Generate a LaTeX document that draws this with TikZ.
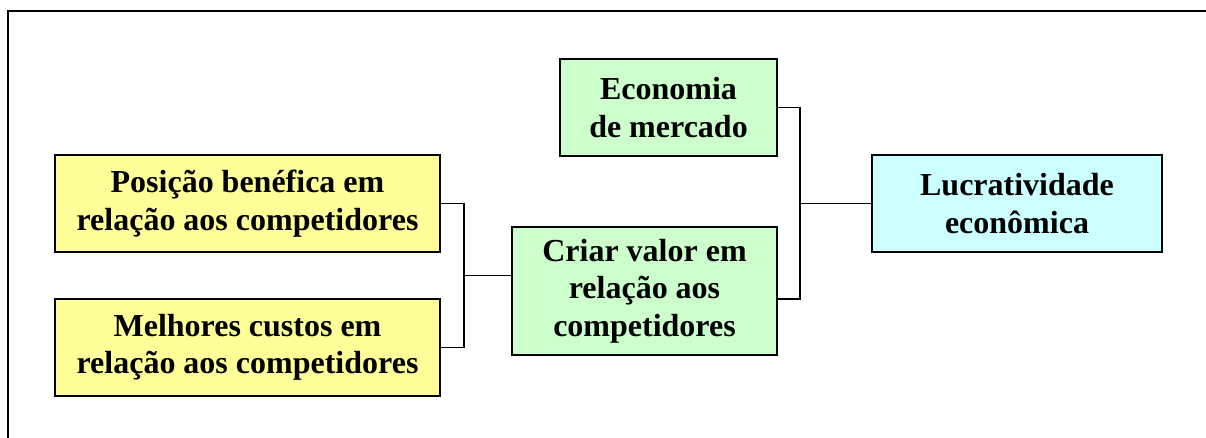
\documentclass[tikz,border=0pt]{standalone}
\usepackage{fontspec}
\setmainfont{Liberation Serif}
\definecolor{yel}{HTML}{FFFF99}
\definecolor{grn}{HTML}{CCFFCC}
\definecolor{cyn}{HTML}{CCFFFF}
\begin{document}
\begin{tikzpicture}[x=1pt,y=-1pt,
  box/.style={draw=black,line width=1.8pt,align=center,inner sep=0pt,
    font=\fontsize{32}{37.5}\selectfont\bfseries},
  conn/.style={draw=black,line width=1.5pt}]
\useasboundingbox (0,0) rectangle (1206,438);
\draw[line width=2pt] (8,11) rectangle (1215,450);
\node[box,fill=yel,minimum width=385pt,minimum height=97pt] (pos) at (247.5,203.5) {Posição benéfica em\\relação aos competidores};
\node[box,fill=yel,minimum width=385pt,minimum height=97pt] (mel) at (247.5,347.5) {Melhores custos em\\relação aos competidores};
\node[box,fill=grn,minimum width=265pt,minimum height=128pt] (cri) at (644.5,291) {Criar valor em\\relação aos\\competidores};
\node[box,fill=grn,minimum width=217pt,minimum height=97pt] (eco) at (668.5,107.5) {Economia\\de mercado};
\node[box,fill=cyn,minimum width=290pt,minimum height=97pt] (luc) at (1017,203.5) {Lucratividade\\econômica};
\coordinate (j1) at (464,275.5);
\coordinate (k1) at (464,203.5);
\coordinate (j2) at (800,203.5);
\coordinate (r1) at (800,299);
\draw[conn] (pos.east) -- (k1) |- (mel.east);
\draw[conn] (j1) -- (cri.west |- j1);
\draw[conn] (eco.east) -| (r1) -- (cri.east |- r1);
\draw[conn] (j2) -- (luc.west);
\end{tikzpicture}
\end{document}
